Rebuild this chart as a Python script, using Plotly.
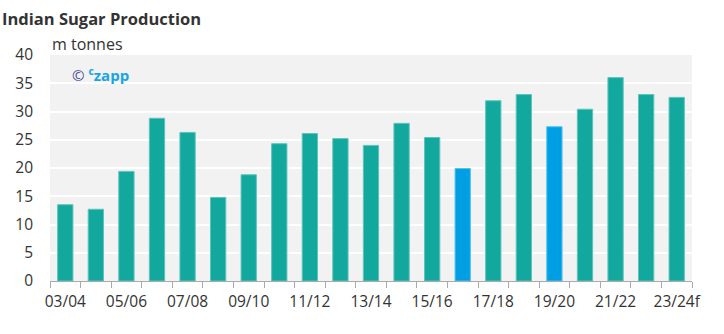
import plotly.graph_objects as go

# Season labels and production (million tonnes)
seasons = ["03/04", "04/05", "05/06", "06/07", "07/08", "08/09", "09/10", "10/11",
           "11/12", "12/13", "13/14", "14/15", "15/16", "16/17", "17/18", "18/19",
           "19/20", "20/21", "21/22", "22/23", "23/24f"]
production = [13.5, 12.7, 19.4, 28.8, 26.3, 14.8, 18.8, 24.3, 26.1, 25.2, 24.0,
              27.9, 25.4, 19.9, 31.9, 33.0, 27.3, 30.4, 36.0, 33.0, 32.5]
highlighted = ["16/17", "19/20"]

TEAL = "#13a89e"
BLUE = "#009fe3"
colors = [BLUE if s in highlighted else TEAL for s in seasons]
edges = ["#4cc3f0" if s in highlighted else "#5cc4bc" for s in seasons]

# label every other season, keep a tick at every boundary
ticktext = [s if i % 2 == 0 else "" for i, s in enumerate(seasons)]

fig = go.Figure(go.Bar(
    x=seasons, y=production,
    marker=dict(color=colors, line=dict(color=edges, width=1)),
    hoverinfo="x+y",
))

fig.update_layout(
    width=724, height=334,
    margin=dict(l=50, r=32, t=55, b=53),
    paper_bgcolor="white",
    plot_bgcolor="#f2f2f2",
    bargap=0.5,
    showlegend=False,
    font=dict(family="Open Sans, Segoe UI, sans-serif", color="#333333", size=14),
    xaxis=dict(
        type="category",
        tickvals=seasons, ticktext=ticktext,
        tickangle=0,
        tickson="boundaries",
        ticks="outside", ticklen=6, tickcolor="#aaaaaa", tickwidth=1,
        ticklabelstandoff=6,
        showline=True, linecolor="#aaaaaa", linewidth=1,
        showgrid=False,
        tickfont=dict(size=15.5, color="#333333"),
        fixedrange=True,
    ),
    yaxis=dict(
        range=[0, 40], dtick=5,
        showgrid=True, gridcolor="#ffffff", gridwidth=2,
        zeroline=False, showline=False,
        ticks="", ticklabelstandoff=16,
        tickfont=dict(size=15.5, color="#333333"),
        fixedrange=True,
    ),
    annotations=[
        dict(text="<b>Indian Sugar Production</b>", xref="paper", yref="paper",
             x=-50 / 642, y=1 + 37 / 226, xanchor="left", yanchor="middle",
             showarrow=False, font=dict(size=16.5, color="#333333")),
        dict(text="m tonnes", xref="paper", yref="paper",
             x=0, y=1 + 11 / 226, xanchor="left", yanchor="middle",
             showarrow=False, font=dict(size=16, color="#333333")),
        dict(text="<span style='color:#4b4ba0'>©</span> "
                  "<span style='color:#1ba3e3'><b><sup>c</sup>zapp</b></span>",
             xref="paper", yref="paper",
             x=20 / 642, y=1 - 19 / 226, xanchor="left", yanchor="middle",
             showarrow=False, font=dict(size=15)),
    ],
)

fig.write_html("out.html")
